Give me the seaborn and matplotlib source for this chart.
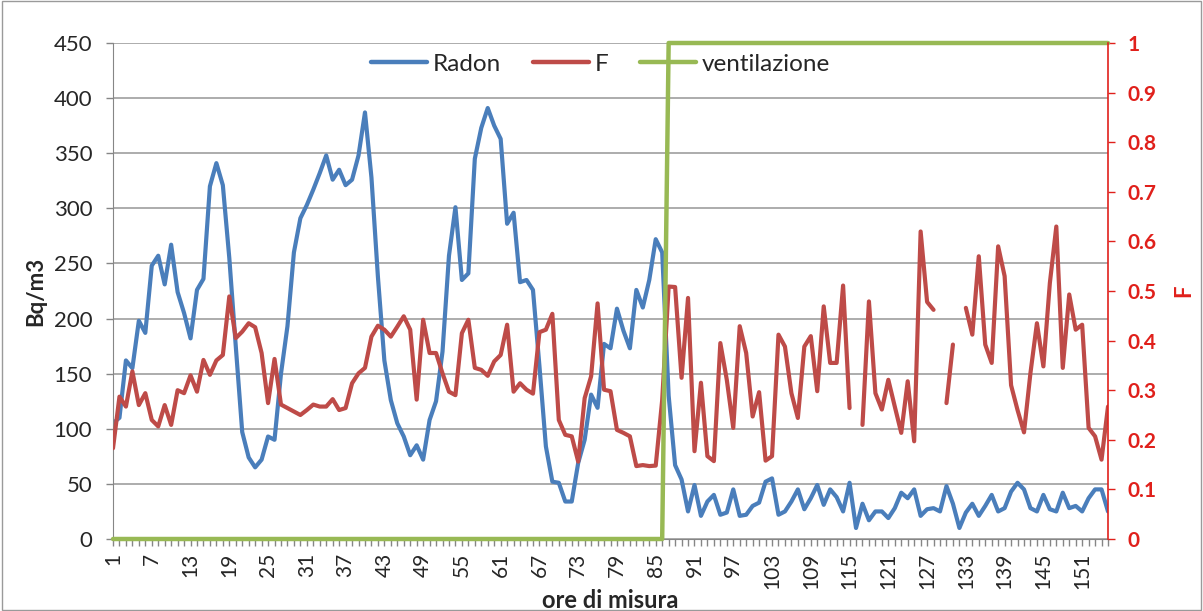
import numpy as np
import pandas as pd
import matplotlib
matplotlib.use("Agg")
import matplotlib.pyplot as plt
from matplotlib.lines import Line2D
import seaborn as sns

# ---------------- data ----------------
hours = list(range(1, 156))

radon = [105, 110, 162, 155, 198, 187, 248, 257, 231, 267, 224, 205, 182, 226, 236, 320, 341, 321,
         255, 175, 97, 74, 65, 72, 93, 90,
         150, 193, 260, 291, 303, 317, 332, 348, 326, 335, 321, 326, 348, 387, 328, 238, 162, 126,
         105, 93, 76, 85, 72, 108,
         125, 170, 257, 301, 235, 241, 345, 373, 391, 375, 363, 286, 296, 233, 235, 226, 157, 84,
         52, 51, 34, 34, 69, 90, 131, 119,
         177, 173, 209, 189, 173, 226, 210, 235, 272, 260,
         130, 67, 54, 25, 49, 21, 34, 40, 22, 24, 45, 21, 22, 30, 33, 52,
         55, 22, 25, 34, 45, 27, 37, 49, 31, 45, 38, 25, 51, 10, 32, 17, 25, 25, 19, 28, 42, 37, 45,
         21, 27, 28, 25, 48, 32, 10, 24, 32, 21, 30, 40, 25, 28, 43, 51, 45, 28, 25, 40, 27, 25, 42,
         28, 30, 25, 37, 45, 45, 25]

nan = np.nan
F = [0.183, 0.287, 0.267, 0.338, 0.27, 0.294, 0.24, 0.227, 0.27, 0.23, 0.30, 0.294, 0.33, 0.297,
     0.361, 0.331, 0.36, 0.371, 0.489, 0.405, 0.418, 0.435, 0.427, 0.375, 0.274, 0.363,
     0.271, 0.264, 0.257, 0.25, 0.26, 0.271, 0.267, 0.267, 0.282, 0.26, 0.264, 0.314, 0.334, 0.345,
     0.408, 0.43, 0.422, 0.408, 0.428, 0.449, 0.422, 0.281, 0.442, 0.375,
     0.375, 0.334, 0.297, 0.29, 0.415, 0.442, 0.345, 0.341, 0.329, 0.358, 0.371, 0.432, 0.297, 0.314,
     0.301, 0.293, 0.417, 0.422, 0.454, 0.24, 0.21, 0.207, 0.156, 0.284, 0.328, 0.475,
     0.301, 0.298, 0.22, 0.214, 0.207, 0.147, 0.149, 0.147, 0.148, 0.28,
     0.509, 0.508, 0.325, 0.486, 0.177, 0.315, 0.167, 0.157, 0.395, 0.321, 0.224, 0.429, 0.375, 0.247,
     0.296, 0.158,
     0.167, 0.412, 0.388, 0.294, 0.244, 0.388, 0.409, 0.298, 0.469, 0.355, 0.355, 0.511, 0.264, nan,
     0.23, 0.479, 0.294, 0.261, 0.321, 0.267, 0.214, 0.318, 0.197,
     0.62, 0.478, 0.462, nan, 0.274, 0.392, nan, 0.466, 0.412, 0.57, 0.392, 0.355, 0.59, 0.53, 0.31,
     0.26, 0.215, 0.335, 0.435, 0.348, 0.516, 0.63, 0.345, 0.493, 0.422, 0.432, 0.224, 0.207, 0.16,
     0.267]

ventilazione = [0] * 86 + [1] * 69

xtick_labels = [str(h) for h in range(1, 156, 6)]

# ---------------- style ----------------
sns.set_style("white")
plt.rcParams["font.family"] = ["Lato", "DejaVu Sans"]

BLUE = "#4A7EBB"
RED = "#BE4B48"
GREEN = "#98B954"
AXRED = "#E0201B"
GRID = "#A6A6A6"
AXGRAY = "#868686"

df = pd.DataFrame({"ora": hours, "Radon": radon, "F": F, "vent": ventilazione})
df["seg"] = np.cumsum(df["F"].isna())
dfF = df.dropna(subset=["F"])

fig = plt.figure(figsize=(12.03, 6.11), dpi=100)
ax = fig.add_axes([113 / 1203, 1 - 539 / 611, 995 / 1203, 496 / 611])
ax2 = ax.twinx()

sns.lineplot(data=df, x="ora", y="Radon", ax=ax, color=BLUE, lw=3.0)
sns.lineplot(data=dfF, x="ora", y="F", units="seg", estimator=None, ax=ax2, color=RED, lw=3.0)
sns.lineplot(data=df, x="ora", y="vent", ax=ax2, color=GREEN, lw=3.2, clip_on=False)

ax.set_xlim(1, 155)
ax.set_ylim(0, 450)
ax2.set_ylim(0, 1)

ax.set_yticks(range(0, 451, 50))
ax.yaxis.grid(True, color=GRID, lw=1.3)
ax.set_axisbelow(True)

ax.set_xticks(range(1, 156, 6))
ax.set_xticklabels(xtick_labels, rotation=90)
ax.set_xticks(hours, minor=True)
ax.tick_params(axis="x", which="both", direction="out", length=5, width=1, color=AXGRAY,
               labelsize=15, pad=5, bottom=True)
ax.tick_params(axis="y", direction="out", length=5, width=1, color=AXGRAY, labelsize=16,
               left=True, pad=10)

yt2 = np.round(np.arange(0, 1.01, 0.1), 1)
ax2.set_yticks(yt2)
ax2.set_yticklabels(["0"] + [f"{v:.1f}" for v in yt2[1:-1]] + ["1"])
ax2.tick_params(axis="y", direction="out", length=5, width=1, color=AXRED, labelcolor=AXRED,
                labelsize=15, right=True, pad=9)
for t in ax2.get_yticklabels():
    t.set_fontweight("bold")

for s in ["top", "right"]:
    ax.spines[s].set_visible(False)
for s in ["left", "bottom"]:
    ax.spines[s].set_color(AXGRAY)
for s in ["top", "left", "bottom"]:
    ax2.spines[s].set_visible(False)
ax2.spines["right"].set_color(AXRED)
ax2.spines["right"].set_linewidth(1.2)

ax.set_xlabel("ore di misura", fontsize=17, fontweight="bold", labelpad=0)
ax.set_ylabel("Bq/m3", fontsize=16, fontweight="bold", labelpad=5)
ax2.set_ylabel("F", fontsize=16, fontweight="bold", color=AXRED, labelpad=12)

handles = [Line2D([], [], color=BLUE, lw=3.2), Line2D([], [], color=RED, lw=3.2),
           Line2D([], [], color=GREEN, lw=3.2)]
ax2.legend(handles, ["Radon", "F", "ventilazione"], loc="upper center",
           bbox_to_anchor=(0.49, 1.022), ncol=3, frameon=False, handlelength=2.3,
           handletextpad=0.25, columnspacing=1.3, fontsize=17.5)

fig.patches.append(plt.Rectangle((0.002, 0.002), 0.996, 0.996, transform=fig.transFigure,
                                 fill=False, edgecolor="#9A9A9A", lw=1))

fig.savefig("out.png", dpi=100)
